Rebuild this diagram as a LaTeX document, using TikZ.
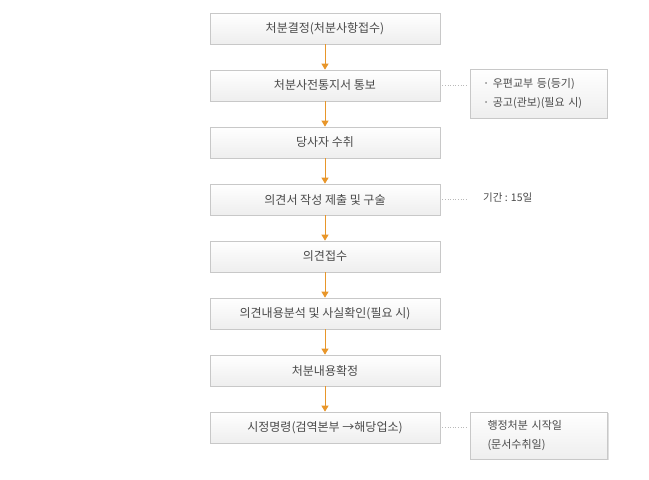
\documentclass[tikz,border=0pt]{standalone}
\usepackage{fontspec}
\setmainfont{Noto Sans CJK KR}
\usetikzlibrary{arrows.meta,shadows}
\definecolor{txt}{HTML}{4A4A4A}
\definecolor{bord}{HTML}{C8C8C8}
\definecolor{arr}{HTML}{E8962A}
\definecolor{boxbot}{HTML}{EEEEEE}
\begin{document}
\begin{tikzpicture}[x=1pt,y=-1pt,
  mainbox/.style={draw=bord, line width=0.7pt, top color=white, bottom color=boxbot,
    minimum width=230pt, minimum height=31pt, inner sep=0pt, text=txt,
    font=\fontsize{12}{14}\selectfont,
    drop shadow={shadow xshift=1pt, shadow yshift=-1.2pt, opacity=0.25}},
  sidebox/.style={draw=bord, line width=0.7pt, top color=white, bottom color=boxbot,
    minimum width=137pt, inner sep=0pt, text=txt, align=left,
    font=\fontsize{11}{18.5}\selectfont,
    drop shadow={shadow xshift=1pt, shadow yshift=-1.2pt, opacity=0.25}},
  flow/.style={draw=arr, line width=0.9pt, -{Triangle[length=6pt,width=7pt]}},
  dots/.style={draw=bord!80!gray, line width=0.6pt, dotted}
]
\useasboundingbox (0,0) rectangle (649,480);
\node[mainbox] (b1) at (325,28.5) {처분결정(처분사항접수)};
\node[mainbox] (b2) at (325,85.5) {처분사전통지서 통보};
\node[mainbox] (b3) at (325,142.5) {당사자 수취};
\node[mainbox] (b4) at (325,199.5) {의견서 작성 제출 및 구술};
\node[mainbox] (b5) at (325,256.5) {의견접수};
\node[mainbox] (b6) at (325,313.5) {의견내용분석 및 사실확인(필요 시)};
\node[mainbox] (b7) at (325,370.5) {처분내용확정};
\node[mainbox] (b8) at (325,427.5) {시정명령(검역본부 →해당업소)};
\foreach \a/\b in {b1/b2,b2/b3,b3/b4,b4/b5,b5/b6,b6/b7,b7/b8}
  \draw[flow] (\a.south) -- (\b.north);
\node[sidebox, minimum height=49pt, text width=111pt] (s1) at (538.5,93.5)
  {· 우편교부 등(등기)\\· 공고(관보)(필요 시)};
\node[sidebox, minimum height=47pt, text width=103pt, xshift=5pt] (s2) at (534,435.5)
  {행정처분 시작일\\(문서수취일)};
\node[text=txt, anchor=west, inner sep=0pt, font=\fontsize{10.5}{12}\selectfont] (t4) at (483,197.5) {기간 : 15일};
\coordinate (c4) at (468,199.5);
\draw[dots] ([xshift=2pt]b2.east) -- ([xshift=-2pt]s1.west |- b2.east);
\draw[dots] ([xshift=2pt]b4.east) -- (c4);
\draw[dots] ([xshift=2pt]b8.east) -- ([xshift=-2pt]s2.west |- b8.east);
\end{tikzpicture}
\end{document}
